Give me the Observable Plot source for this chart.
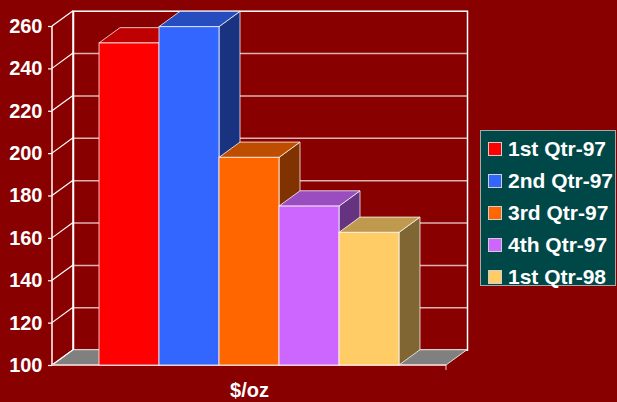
<!DOCTYPE html>
<html>
<head>
<meta charset="utf-8">
<script src="https://cdn.jsdelivr.net/npm/d3@7"></script>
<script src="https://cdn.jsdelivr.net/npm/@observablehq/plot@0.6"></script>
<style>
  html, body { margin: 0; padding: 0; background: #880000; }
  #wrap { position: relative; width: 617px; height: 402px; overflow: hidden; background: #880000;
          font-family: "Liberation Sans", Arial, sans-serif; }
  #legend { position: absolute; left: 480px; top: 130px; width: 134px; height: 154px;
            background: #004848; border: 1px solid #a8a8a8; }
  .row { position: absolute; left: 0; height: 32px; display: flex; align-items: center; }
  .sw { width: 14px; height: 14px; margin-left: 7px; border: 1px solid #d0d0d0; box-sizing: border-box; }
  .lb { margin-left: 6px; color: #ffffff; font-weight: bold; font-size: 21px; white-space: nowrap; }
</style>
</head>
<body>
<div id="wrap"></div>
<script>
// ---- data ----
const categories = ["1st Qtr-97", "2nd Qtr-97", "3rd Qtr-97", "4th Qtr-97", "1st Qtr-98"];
const values = [252, 259.7, 198, 175, 162.6];
const yTicks = [100, 120, 140, 160, 180, 200, 220, 240, 260];
const xLabel = "$/oz";

// ---- style ----
const palette = ["#ff0000", "#3366ff", "#ff6600", "#cc66ff", "#ffcc66"];
const DX = 21, DY = -15.3;
const edge = "rgba(255,255,255,0.75)";
const shade = (c, k) => { const r = d3.rgb(c); return d3.rgb(r.r * k, r.g * k, r.b * k).formatHex(); };

const data = categories.map((c, i) => ({cat: c, value: values[i]}));
const yMin = yTicks[0], yMax = yTicks[yTicks.length - 1];

// left wall, floor and axis lines
function structure(index, scales, vals, dims) {
  const g = d3.create("svg:g");
  const x0 = dims.marginLeft, x1 = dims.width - dims.marginRight;
  const yb = scales.y(yMin), yt = scales.y(yMax);
  g.append("path")
    .attr("d", `M${x0},${yb}L${x1},${yb}L${x1 + DX},${yb + DY}L${x0 + DX},${yb + DY}Z`)
    .attr("fill", "#808080").attr("stroke", "#e0e0e0").attr("stroke-width", 1);
  for (const t of yTicks) {
    const y = scales.y(t);
    g.append("line").attr("x1", x0).attr("y1", y).attr("x2", x0 + DX).attr("y2", y + DY)
      .attr("stroke", "#ffffff").attr("stroke-width", 1.2);
  }
  g.append("line").attr("x1", x0).attr("y1", yt).attr("x2", x0).attr("y2", yb)
    .attr("stroke", "#ffffff").attr("stroke-width", 1.5);
  g.append("line").attr("x1", x0 + DX).attr("y1", yt + DY).attr("x2", x0 + DX).attr("y2", yb + DY)
    .attr("stroke", "#ffffff").attr("stroke-width", 1.5);
  g.append("line").attr("x1", x0).attr("y1", yb).attr("x2", x1).attr("y2", yb)
    .attr("stroke", "#f0d0d0").attr("stroke-width", 1.5);
  g.append("line").attr("x1", x1).attr("y1", yb).attr("x2", x1).attr("y2", yb + 5)
    .attr("stroke", "#f0d0d0").attr("stroke-width", 1);
  return g.node();
}

// sides and tops of the bars
function barFaces(index, scales, vals, dims) {
  const g = d3.create("svg:g");
  const bw = scales.x.bandwidth ? scales.x.bandwidth() : scales.scales.x.bandwidth;
  const yb = scales.y(yMin);
  data.forEach((d, i) => {
    const a = scales.x(d.cat), b = a + bw, yt = scales.y(d.value);
    g.append("path")
      .attr("d", `M${b},${yt}L${b + DX},${yt + DY}L${b + DX},${yb + DY}L${b},${yb}Z`)
      .attr("fill", shade(palette[i], 0.5)).attr("stroke", edge).attr("stroke-width", 1);
    g.append("path")
      .attr("d", `M${a},${yt}L${b},${yt}L${b + DX},${yt + DY}L${a + DX},${yt + DY}Z`)
      .attr("fill", shade(palette[i], 0.75)).attr("stroke", edge).attr("stroke-width", 1);
  });
  return g.node();
}

const chart = Plot.plot({
  width: 617,
  height: 402,
  marginLeft: 52,
  marginRight: 171,
  marginTop: 26,
  marginBottom: 37,
  style: {background: "#880000", color: "#ffffff", fontFamily: "'Liberation Sans', Arial, sans-serif", overflow: "visible"},
  x: {domain: categories, paddingInner: 0, paddingOuter: 0.75, axis: null},
  y: {domain: [yMin, yMax], axis: null},
  color: {domain: categories, range: palette},
  marks: [
    Plot.frame({fill: "#880000", stroke: "#ffffff", strokeWidth: 1.5, dx: DX, dy: DY}),
    Plot.ruleY(yTicks.slice(1, -1), {stroke: "#ffffff", strokeOpacity: 0.7, strokeWidth: 1.5, dx: DX, dy: DY}),
    structure,
    Plot.axisY(yTicks, {tickSize: 4, tickPadding: 6, fontSize: 20, fontWeight: "bold", color: "#ffffff", label: null, strokeWidth: 1.2}),
    barFaces,
    Plot.barY(data, {x: "cat", y1: yMin, y2: "value", fill: "cat", stroke: edge, strokeWidth: 1}),
    Plot.text([xLabel], {frameAnchor: "bottom", dy: 25, fontSize: 20, fontWeight: "bold", fill: "#ffffff", lineAnchor: "middle"})
  ]
});

const wrap = document.getElementById("wrap");
wrap.appendChild(chart);

// legend
const legend = document.createElement("div");
legend.id = "legend";
categories.forEach((c, i) => {
  const row = document.createElement("div");
  row.className = "row";
  row.style.top = (2 + i * 31.9) + "px";
  const sw = document.createElement("div");
  sw.className = "sw";
  sw.style.background = palette[i];
  const lb = document.createElement("span");
  lb.className = "lb";
  lb.textContent = c;
  row.appendChild(sw);
  row.appendChild(lb);
  legend.appendChild(row);
});
wrap.appendChild(legend);
</script>
</body>
</html>
